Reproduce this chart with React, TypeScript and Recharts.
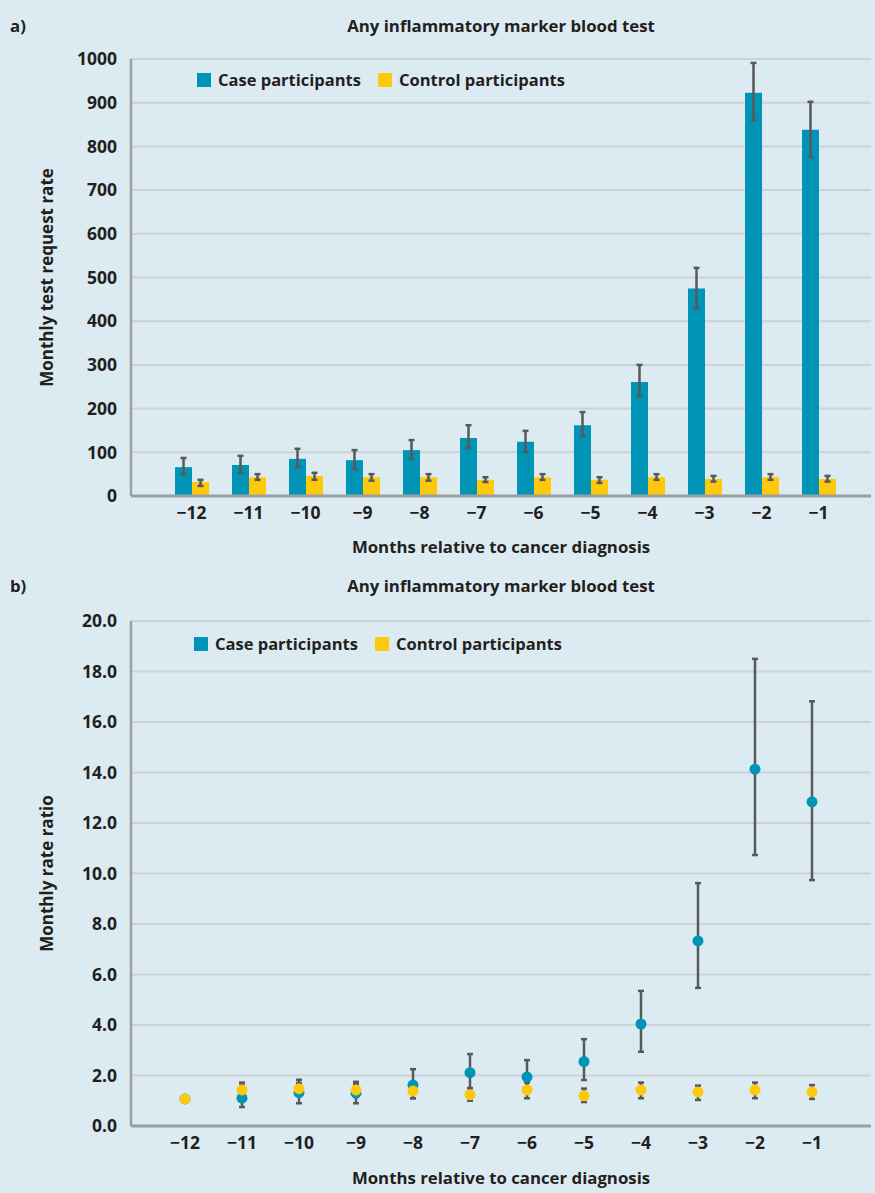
import React from 'react';
import { ComposedChart, Bar, Line, XAxis, YAxis, CartesianGrid, ErrorBar } from 'recharts';

const months = ['−12', '−11', '−10', '−9', '−8', '−7', '−6', '−5', '−4', '−3', '−2', '−1'];

// panel a: monthly test request rate
const caseRate = [66, 71, 85, 82, 105, 133, 124, 162, 261, 475, 923, 838];
const caseRateLow = [50, 53, 66, 62, 85, 110, 101, 137, 229, 429, 860, 776];
const caseRateHigh = [87, 92, 108, 105, 128, 162, 149, 192, 300, 522, 991, 902];
const controlRate = [32, 43, 46, 43, 43, 37, 43, 37, 43, 39, 43, 39];
const controlRateLow = [23, 37, 37, 35, 35, 32, 37, 30, 37, 33, 37, 33];
const controlRateHigh = [37, 50, 53, 50, 50, 43, 50, 43, 50, 46, 50, 46];
const rateTicks = [0, 100, 200, 300, 400, 500, 600, 700, 800, 900, 1000];

// panel b: monthly rate ratio
const caseRatio = [1.07, 1.1, 1.32, 1.3, 1.62, 2.11, 1.94, 2.55, 4.04, 7.33, 14.13, 12.84];
const caseRatioLow = [1.07, 0.75, 0.9, 0.9, 1.1, 1.5, 1.35, 1.82, 2.94, 5.47, 10.73, 9.74];
const caseRatioHigh = [1.07, 1.6, 1.7, 1.65, 2.25, 2.85, 2.61, 3.44, 5.35, 9.62, 18.5, 16.82];
const controlRatio = [1.07, 1.43, 1.48, 1.43, 1.39, 1.24, 1.43, 1.2, 1.43, 1.35, 1.43, 1.35];
const controlRatioLow = [1.07, 1.2, 1.2, 1.15, 1.1, 1.0, 1.1, 0.95, 1.1, 1.03, 1.1, 1.07];
const controlRatioHigh = [1.07, 1.72, 1.83, 1.75, 1.7, 1.5, 1.72, 1.48, 1.72, 1.6, 1.72, 1.62];
const ratioTicks = [0, 2, 4, 6, 8, 10, 12, 14, 16, 18, 20];

const FONT = '"Open Sans", Roboto, sans-serif';
const INK = '#231f20';
const BG = '#dcebf2';
const CASE = '#0094b6';
const CONTROL = '#ffc90b';
const ERR = '#58595b';
const GRID = '#cdd2d5';
const AXIS = '#9c9fa1';

const err = (v: number, lo: number, hi: number) =>
  lo === v && hi === v ? undefined : [v - lo, hi - v];

const rateData = months.map((m, i) => ({
  month: m,
  caseRate: caseRate[i],
  controlRate: controlRate[i],
  caseErr: err(caseRate[i], caseRateLow[i], caseRateHigh[i]),
  controlErr: err(controlRate[i], controlRateLow[i], controlRateHigh[i]),
}));

const ratioData = months.map((m, i) => ({
  month: m,
  caseRatio: caseRatio[i],
  controlRatio: controlRatio[i],
  caseErr: err(caseRatio[i], caseRatioLow[i], caseRatioHigh[i]),
  controlErr: err(controlRatio[i], controlRatioLow[i], controlRatioHigh[i]),
}));

const tickStyle = { fill: INK, fontSize: 17.5, fontWeight: 700, fontFamily: FONT };
const textStyle: React.CSSProperties = { fontFamily: FONT, fontWeight: 700, color: INK, position: 'absolute' };

function LegendRow({ top, left }: { top: number; left: number }) {
  const items = [
    { label: 'Case participants', color: CASE },
    { label: 'Control participants', color: CONTROL },
  ];
  return (
    <div style={{ position: 'absolute', top, left, display: 'flex', alignItems: 'center', gap: 17 }}>
      {items.map((it) => (
        <div key={it.label} style={{ display: 'flex', alignItems: 'center', gap: 7 }}>
          <div style={{ width: 14, height: 14, background: it.color }} />
          <span style={{ fontFamily: FONT, fontWeight: 700, fontSize: 16.5, color: INK }}>{it.label}</span>
        </div>
      ))}
    </div>
  );
}

const yTitle = (text: string, x: number) => ({ viewBox }: any) => {
  const cy = viewBox.y + viewBox.height / 2;
  return (
    <text x={x} y={cy} textAnchor="middle" transform={`rotate(-90, ${x}, ${cy})`}
      style={{ fontFamily: FONT, fontWeight: 700, fontSize: 17, fill: INK }}>
      {text}
    </text>
  );
};

const xTitle = (text: string, dy: number) => ({ viewBox }: any) => (
  <text x={viewBox.x + viewBox.width / 2} y={viewBox.y + dy} textAnchor="middle"
    style={{ fontFamily: FONT, fontWeight: 700, fontSize: 16.8, fill: INK }}>
    {text}
  </text>
);

export default function App() {
  return (
    <div style={{ position: 'absolute', left: 0, top: 0, width: 875, height: 1193, background: BG, overflow: 'hidden' }}>
      <div style={{ ...textStyle, left: 10, top: 14, fontSize: 16.8 }}>a)</div>
      <div style={{ ...textStyle, left: 131, width: 740, top: 14, fontSize: 16.8, textAlign: 'center' }}>
        Any inflammatory marker blood test
      </div>
      <ComposedChart width={875} height={580} data={rateData} barGap={0}
        margin={{ top: 59, right: 4, bottom: 54, left: 0 }}>
        <CartesianGrid vertical={false} stroke={GRID} strokeWidth={2} />
        <XAxis dataKey="month" type="category" height={30} interval={0} tickLine={false} tickSize={0} tickMargin={11}
          axisLine={{ stroke: AXIS, strokeWidth: 3 }} padding={{ left: 32, right: 24 }} tick={tickStyle}
          label={{ content: xTitle('Months relative to cancer diagnosis', 57) }} />
        <YAxis width={131} domain={[0, 1000]} ticks={rateTicks} interval={0} tickLine={false} tickSize={0}
          tickMargin={14} axisLine={{ stroke: AXIS, strokeWidth: 2.5 }} tick={tickStyle}
          label={{ content: yTitle('Monthly test request rate', 53) }} />
        <Bar dataKey="caseRate" fill={CASE} barSize={17} isAnimationActive={false}>
          <ErrorBar dataKey="caseErr" width={3} stroke={ERR} strokeWidth={2.5} isAnimationActive={false} />
        </Bar>
        <Bar dataKey="controlRate" fill={CONTROL} barSize={17} isAnimationActive={false}>
          <ErrorBar dataKey="controlErr" width={3} stroke={ERR} strokeWidth={2.5} isAnimationActive={false} />
        </Bar>
      </ComposedChart>
      <LegendRow top={68} left={197} />

      <div style={{ ...textStyle, left: 10, top: 574, fontSize: 16.8 }}>b)</div>
      <div style={{ ...textStyle, left: 131, width: 740, top: 574, fontSize: 16.8, textAlign: 'center' }}>
        Any inflammatory marker blood test
      </div>
      <ComposedChart width={875} height={613} data={ratioData}
        margin={{ top: 41, right: 4, bottom: 37, left: 0 }}>
        <CartesianGrid vertical={false} stroke={GRID} strokeWidth={2} />
        <XAxis dataKey="month" type="category" height={30} interval={0} tickLine={false} tickSize={0} tickMargin={11}
          axisLine={{ stroke: AXIS, strokeWidth: 3 }} padding={{ left: 54, right: 59 }} tick={tickStyle}
          label={{ content: xTitle('Months relative to cancer diagnosis', 58) }} />
        <YAxis width={131} domain={[0, 20]} ticks={ratioTicks} interval={0} tickLine={false} tickSize={0}
          tickMargin={14} axisLine={{ stroke: AXIS, strokeWidth: 2.5 }} tick={tickStyle}
          tickFormatter={(v: number) => v.toFixed(1)}
          label={{ content: yTitle('Monthly rate ratio', 53) }} />
        <Line dataKey="caseRatio" stroke="none" isAnimationActive={false} activeDot={false}
          dot={{ r: 5.5, fill: CASE, stroke: 'none' }}>
          <ErrorBar dataKey="caseErr" width={3} stroke={ERR} strokeWidth={2.5} isAnimationActive={false} />
        </Line>
        <Line dataKey="controlRatio" stroke="none" isAnimationActive={false} activeDot={false}
          dot={{ r: 5.5, fill: CONTROL, stroke: 'none' }}>
          <ErrorBar dataKey="controlErr" width={3} stroke={ERR} strokeWidth={2.5} isAnimationActive={false} />
        </Line>
      </ComposedChart>
      <LegendRow top={632} left={194} />
    </div>
  );
}
